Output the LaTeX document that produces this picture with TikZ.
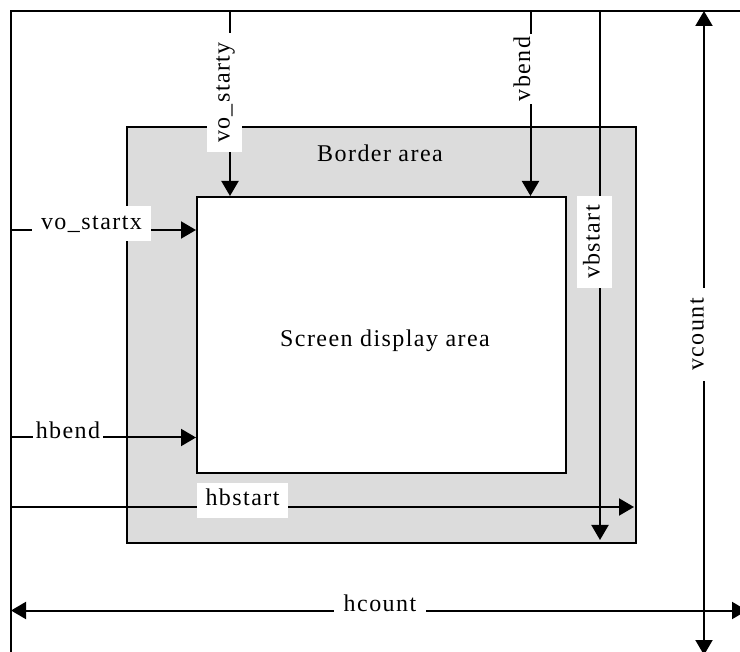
\documentclass[tikz,border=0pt]{standalone}
\usepackage{fontspec}
\setmainfont{Liberation Serif}[LetterSpace=6]
\usetikzlibrary{arrows.meta}
\definecolor{bordergray}{RGB}{220,220,220}
\begin{document}
\begin{tikzpicture}[x=1pt,y=-1pt,
  line width=2pt,
  tip/.style={-{Triangle[length=15pt,width=17pt]}},
  dtip/.style={{Triangle[length=15pt,width=17pt]}-{Triangle[length=15pt,width=17pt]}},
  txt/.style={font=\fontsize{24}{28}\selectfont, inner sep=0pt, anchor=base},
  lbl/.style={txt, fill=white, inner xsep=9pt, inner ysep=6pt, text height=17pt, text depth=6pt},
  vlbl/.style={lbl, rotate=90},
  area/.style={draw, inner sep=0pt, anchor=north west}]
\useasboundingbox (0,0) rectangle (740,652);
\fill[white] (0,0) rectangle (740,652);
% areas
\node (border) [area, fill=bordergray, minimum width=509pt, minimum height=416pt] at (126,126) {};
\node (screen) [area, fill=white, minimum width=369pt, minimum height=276pt] at (196,196) {};
% frame
\coordinate (tl) at (11,11);
\coordinate (tr) at (740,11);
\coordinate (bl) at (11,652);
\draw (tr) -- (tl) -- (bl);
% vertical arrows
\coordinate (vsy) at (230,11);
\coordinate (vbe) at (530.5,11);
\coordinate (vbs) at (600,11);
\coordinate (vbsend) at (600,540);
\coordinate (vct) at (704,11);
\coordinate (vctend) at (704,655);
\draw[tip] (vsy) -- (vsy |- screen.north);
\draw[tip] (vbe) -- (vbe |- screen.north);
\draw[tip] (vbs) -- (vbsend);
\draw[dtip] (vct) -- (vctend);
% horizontal arrows
\coordinate (hsx) at (11,230);
\coordinate (hbe) at (11,437.5);
\coordinate (hbs) at (11,507);
\coordinate (hbsend) at (634,507);
\coordinate (hct) at (11,610.5);
\coordinate (hctend) at (747,610.5);
\draw[tip] (hsx) -- (hsx -| screen.west);
\draw[tip] (hbe) -- (hbe -| screen.west);
\draw[tip] (hbs) -- (hbsend);
\draw[dtip] (hct) -- (hctend);
% labels
\node (lvsy) [vlbl] at (229.5,92.5) {vo\_starty};
\node (lvbe) [vlbl, inner xsep=3pt] at (530,69) {vbend};
\node (lvbs) [vlbl] at (599.5,242) {vbstart};
\node (lvct) [vlbl, inner xsep=10pt] at (703.5,334.5) {vcount};
\node (lvsx) [lbl] at (91.5,229.5) {vo\_startx};
\node (lhbe) [lbl, inner xsep=2.5pt] at (68,439) {hbend};
\node (lhbs) [lbl] at (242.5,506) {hbstart};
\node (lhct) [lbl, inner xsep=10pt] at (380,612) {hcount};
\node (lborder) [txt] at (380,162) {Border area};
\node (lscreen) [txt] at (385,347) {Screen display area};
\end{tikzpicture}
\end{document}
